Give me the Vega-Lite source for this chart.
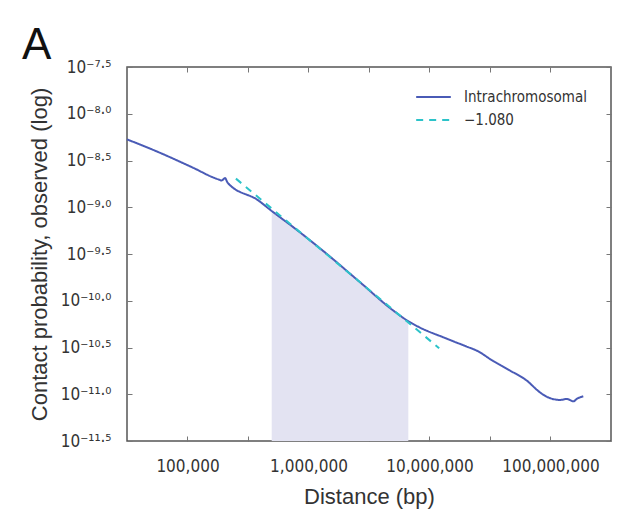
{
  "$schema": "https://vega.github.io/schema/vega-lite/v6.json",
  "width": 484,
  "height": 374,
  "autosize": {"type": "none"},
  "padding": {"left": 127, "top": 67, "right": 25, "bottom": 79},
  "background": "white",
  "title": {"text": "A", "anchor": "start", "frame": "group", "fontSize": 44, "font": "Liberation Sans", "fontWeight": "normal", "dx": -105, "dy": 50, "offset": 5, "baseline": "alphabetic", "color": "#111"},
  "datasets": {
    "curve": [
      {"d": 31623, "p": -8.274}, {"d": 57410, "p": -8.41}, {"d": 108400, "p": -8.571},
      {"d": 179900, "p": -8.702}, {"d": 191900, "p": -8.713}, {"d": 204200, "p": -8.688},
      {"d": 214800, "p": -8.738}, {"d": 384600, "p": -8.927}, {"d": 496500, "p": -9.04},
      {"d": 748200, "p": -9.213}, {"d": 1413000, "p": -9.498}, {"d": 2667000, "p": -9.802},
      {"d": 5023000, "p": -10.105}, {"d": 6683000, "p": -10.219}, {"d": 8337000, "p": -10.287},
      {"d": 13000000, "p": -10.391}, {"d": 20280000, "p": -10.49}, {"d": 24550000, "p": -10.533},
      {"d": 33650000, "p": -10.645}, {"d": 46240000, "p": -10.746}, {"d": 63530000, "p": -10.853},
      {"d": 81850000, "p": -10.98}, {"d": 93030000, "p": -11.026}, {"d": 119900000, "p": -11.061},
      {"d": 136100000, "p": -11.05}, {"d": 154500000, "p": -11.076}, {"d": 164800000, "p": -11.05},
      {"d": 186600000, "p": -11.022}
    ],
    "fit": [
      {"d": 251200, "p": -8.694}, {"d": 12020000, "p": -10.508}
    ]
  },
  "layer": [
    {
      "data": {"name": "curve"},
      "transform": [{"filter": "datum.d >= 496500 && datum.d <= 6683000"}],
      "mark": {"type": "area", "color": "#e3e3f2", "opacity": 1, "interpolate": "monotone"},
      "encoding": {
        "x": {"field": "d", "type": "quantitative",
          "scale": {"type": "log", "domain": [31622.78, 316227766], "nice": false},
          "axis": {"orient": "bottom", "title": "Distance (bp)", "values": [100000, 316228, 1000000, 3162278, 10000000, 31622777, 100000000],
            "labelExpr": "datum.value == 100000 ? '100,000' : datum.value == 1000000 ? '1,000,000' : datum.value == 10000000 ? '10,000,000' : datum.value == 100000000 ? '100,000,000' : ''",
            "labelOverlap": false, "labelFlush": false, "labelPadding": 22, "titlePadding": 12, "labelFontSize": 17}},
        "y": {"field": "p", "type": "quantitative",
          "scale": {"domain": [-11.5, -7.5], "nice": false, "zero": false},
          "axis": {"orient": "left", "title": "Contact probability, observed (log)", "values": [-11.5, -11, -10.5, -10, -9.5, -9, -8.5, -8, -7.5],
            "labelExpr": "datum.value == -7.5 ? '10⁻⁷·⁵' : datum.value == -8 ? '10⁻⁸·⁰' : datum.value == -8.5 ? '10⁻⁸·⁵' : datum.value == -9 ? '10⁻⁹·⁰' : datum.value == -9.5 ? '10⁻⁹·⁵' : datum.value == -10 ? '10⁻¹⁰·⁰' : datum.value == -10.5 ? '10⁻¹⁰·⁵' : datum.value == -11 ? '10⁻¹¹·⁰' : '10⁻¹¹·⁵'",
            "labelOverlap": false, "labelFlush": false, "labelPadding": 21, "titlePadding": 9, "labelFontSize": 17}},
        "y2": {"datum": -11.5}
      }
    },
    {
      "data": {"name": "curve"},
      "mark": {"type": "line", "strokeWidth": 2, "interpolate": "monotone"},
      "encoding": {
        "x": {"field": "d", "type": "quantitative", "scale": {"type": "log", "domain": [31622.78, 316227766], "nice": false}, "axis": null},
        "y": {"field": "p", "type": "quantitative", "scale": {"domain": [-11.5, -7.5], "nice": false, "zero": false}, "axis": null},
        "color": {"datum": "Intrachromosomal", "type": "nominal", "scale": {"domain": ["Intrachromosomal", "−1.080"], "range": ["#4a5bb6", "#2cc3c9"]},
          "legend": {"orient": "none", "legendX": 288, "legendY": 22, "title": null}},
        "strokeDash": {"datum": "Intrachromosomal", "type": "nominal", "scale": {"domain": ["Intrachromosomal", "−1.080"], "range": [[1, 0], [7, 6]]}}
      }
    },
    {
      "data": {"name": "fit"},
      "mark": {"type": "line", "strokeWidth": 2},
      "encoding": {
        "x": {"field": "d", "type": "quantitative", "scale": {"type": "log", "domain": [31622.78, 316227766], "nice": false},
          "axis": {"orient": "top", "labels": false, "title": null, "values": [100000, 316228, 1000000, 3162278, 10000000, 31622777, 100000000]}},
        "y": {"field": "p", "type": "quantitative", "scale": {"domain": [-11.5, -7.5], "nice": false, "zero": false},
          "axis": {"orient": "right", "labels": false, "title": null, "values": [-11.5, -11, -10.5, -10, -9.5, -9, -8.5, -8, -7.5]}},
        "color": {"datum": "−1.080", "type": "nominal"},
        "strokeDash": {"datum": "−1.080", "type": "nominal"}
      }
    }
  ],
  "resolve": {"axis": {"x": "independent", "y": "independent"}},
  "config": {
    "view": {"stroke": "#555", "strokeWidth": 1.5},
    "axis": {"domain": false, "grid": false, "tickColor": "#777", "tickSize": -5, "tickWidth": 1,
      "labelFont": "DejaVu Sans Condensed", "labelFontSize": 15, "labelColor": "#333",
      "titleFont": "Liberation Sans", "titleFontSize": 22, "titleFontWeight": "normal", "titleColor": "#333"},
    "legend": {"symbolType": "stroke", "symbolSize": 1200, "symbolStrokeWidth": 2, "clipHeight": 16,
      "labelFont": "DejaVu Sans Condensed", "labelFontSize": 15, "labelColor": "#333", "labelOffset": 12, "rowPadding": 7}
  }
}
